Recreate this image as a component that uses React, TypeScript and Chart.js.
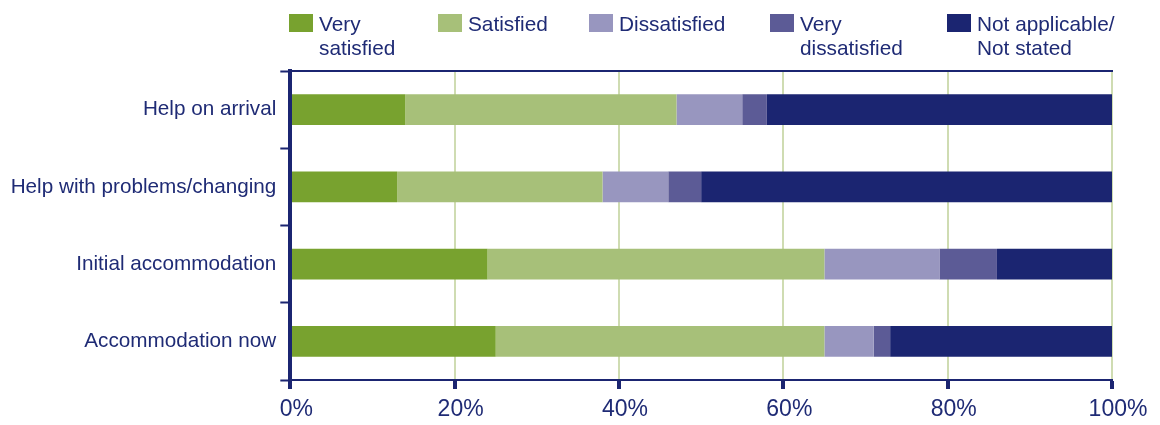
import React, { useEffect, useRef } from "react";
import { Chart, registerables } from "chart.js";

Chart.register(...registerables);

const categories = [
  "Help on arrival",
  "Help with problems/changing",
  "Initial accommodation",
  "Accommodation now",
];
const verySatisfied = [14, 13, 24, 25];
const satisfied = [33, 25, 41, 40];
const dissatisfied = [8, 8, 14, 6];
const veryDissatisfied = [3, 4, 7, 2];
const notApplicable = [42, 50, 14, 27];

const seriesLabels: string[][] = [
  ["Very", "satisfied"],
  ["Satisfied"],
  ["Dissatisfied"],
  ["Very", "dissatisfied"],
  ["Not applicable/", "Not stated"],
];
const seriesColors = ["#78a22f", "#a7c079", "#9896bf", "#5c5b96", "#1b2571"];
const xTickStep = 20;

const NAVY = "#1b2571";
const TEXT = "#1f2b75";
const GRID = "#cfdcb2";
const FONT = "'Liberation Sans', Arial, Helvetica, sans-serif";

const legendX = [289, 438, 589, 770, 947];

const customLegend = {
  id: "customLegend",
  afterDraw(chart: any) {
    const ctx = chart.ctx;
    ctx.save();
    chart.data.datasets.forEach((ds: any, i: number) => {
      const x = legendX[i];
      ctx.fillStyle = ds.backgroundColor;
      ctx.fillRect(x, 14, 24, 18);
      ctx.fillStyle = TEXT;
      ctx.font = `20.8px ${FONT}`;
      ctx.textBaseline = "alphabetic";
      ctx.textAlign = "left";
      const lines: string[] = Array.isArray(ds.label) ? ds.label : [ds.label];
      lines.forEach((ln, j) => ctx.fillText(ln, x + 30, 31 + j * 24));
    });
    ctx.restore();
  },
};

const topLine = {
  id: "topLine",
  afterDatasetsDraw(chart: any) {
    const { ctx, chartArea } = chart;
    ctx.save();
    ctx.strokeStyle = NAVY;
    ctx.lineWidth = 2;
    ctx.beginPath();
    ctx.moveTo(chartArea.left, chartArea.top);
    ctx.lineTo(chartArea.right + 1, chartArea.top);
    ctx.stroke();
    ctx.restore();
  },
};

export default function App() {
  const ref = useRef<HTMLCanvasElement | null>(null);

  useEffect(() => {
    if (!ref.current) return;
    const seriesData = [verySatisfied, satisfied, dissatisfied, veryDissatisfied, notApplicable];
    const chart = new Chart(ref.current, {
      type: "bar",
      data: {
        labels: categories,
        datasets: seriesData.map((d, i) => ({
          label: seriesLabels[i] as any,
          data: d,
          backgroundColor: seriesColors[i],
          borderWidth: 0,
          categoryPercentage: 0.8,
          barPercentage: 0.5,
        })),
      },
      options: {
        indexAxis: "y",
        animation: false,
        responsive: true,
        maintainAspectRatio: false,
        layout: { padding: { top: 71, right: 48, bottom: 0, left: 0 } },
        plugins: {
          legend: { display: false },
          tooltip: { enabled: false },
        },
        scales: {
          x: {
            stacked: true,
            min: 0,
            max: 100,
            ticks: {
              stepSize: xTickStep,
              callback: (v: any) => `${v}%`,
              color: TEXT,
              font: { family: FONT, size: 23 },
              padding: 7,
              labelOffset: 6,
              maxRotation: 0,
            },
            grid: {
              color: (c: any) => (c.index === 0 ? "rgba(0,0,0,0)" : GRID),
              lineWidth: 2,
              tickColor: NAVY,
              tickWidth: 4,
              tickLength: 9,
            },
            border: { color: NAVY, width: 2, z: 1 },
            afterFit: (s: any) => {
              s.height = 45;
            },
          },
          y: {
            stacked: true,
            ticks: {
              color: TEXT,
              font: { family: FONT, size: 20.7 },
              padding: 4,
            },
            grid: {
              drawOnChartArea: false,
              tickColor: NAVY,
              tickWidth: 2,
              tickLength: 10,
              offset: true,
            },
            border: { color: NAVY, width: 4, z: 1 },
            afterFit: (s: any) => {
              s.width = 290.3;
            },
          },
        },
      },
      plugins: [customLegend, topLine],
    });
    return () => chart.destroy();
  }, []);

  return (
    <div
      style={{
        position: "fixed",
        left: 0,
        top: 0,
        width: "1160px",
        height: "425px",
        background: "#ffffff",
      }}
    >
      <canvas ref={ref} />
    </div>
  );
}
